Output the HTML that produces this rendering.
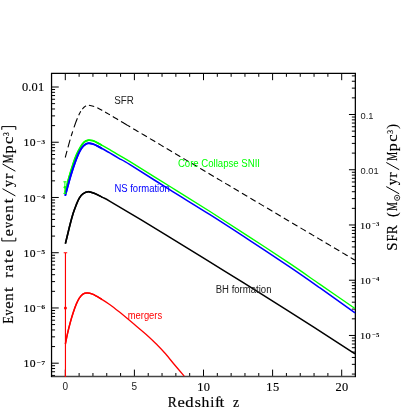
<!DOCTYPE html>
<html><head><meta charset="utf-8"><title>Event rate vs redshift</title>
<style>html,body{margin:0;padding:0;background:#fff;}svg{display:block;will-change:transform;}</style></head>
<body>
<svg width="415" height="415" viewBox="0 0 415 415">
<rect width="415" height="415" fill="#fff"/>
<path d="M65.30 376.50v-6.90M65.30 73.30v6.90M79.12 376.50v-3.50M79.12 73.30v3.50M92.94 376.50v-3.50M92.94 73.30v3.50M106.76 376.50v-3.50M106.76 73.30v3.50M120.58 376.50v-3.50M120.58 73.30v3.50M134.40 376.50v-6.90M134.40 73.30v6.90M148.22 376.50v-3.50M148.22 73.30v3.50M162.04 376.50v-3.50M162.04 73.30v3.50M175.86 376.50v-3.50M175.86 73.30v3.50M189.68 376.50v-3.50M189.68 73.30v3.50M203.50 376.50v-6.90M203.50 73.30v6.90M217.32 376.50v-3.50M217.32 73.30v3.50M231.14 376.50v-3.50M231.14 73.30v3.50M244.96 376.50v-3.50M244.96 73.30v3.50M258.78 376.50v-3.50M258.78 73.30v3.50M272.60 376.50v-6.90M272.60 73.30v6.90M286.42 376.50v-3.50M286.42 73.30v3.50M300.24 376.50v-3.50M300.24 73.30v3.50M314.06 376.50v-3.50M314.06 73.30v3.50M327.88 376.50v-3.50M327.88 73.30v3.50M341.70 376.50v-6.90M341.70 73.30v6.90M51.55 375.45h3.50M51.55 371.76h3.50M51.55 368.55h3.50M51.55 365.73h3.50M51.55 363.20h7.20M51.55 346.57h3.50M51.55 336.84h3.50M51.55 329.94h3.50M51.55 324.59h3.50M51.55 320.21h3.50M51.55 316.52h3.50M51.55 313.31h3.50M51.55 310.49h3.50M51.55 307.96h7.20M51.55 291.33h3.50M51.55 281.60h3.50M51.55 274.70h3.50M51.55 269.35h3.50M51.55 264.97h3.50M51.55 261.28h3.50M51.55 258.07h3.50M51.55 255.25h3.50M51.55 252.72h7.20M51.55 236.09h3.50M51.55 226.36h3.50M51.55 219.46h3.50M51.55 214.11h3.50M51.55 209.73h3.50M51.55 206.04h3.50M51.55 202.83h3.50M51.55 200.01h3.50M51.55 197.48h7.20M51.55 180.85h3.50M51.55 171.12h3.50M51.55 164.22h3.50M51.55 158.87h3.50M51.55 154.49h3.50M51.55 150.80h3.50M51.55 147.59h3.50M51.55 144.77h3.50M51.55 142.24h7.20M51.55 125.61h3.50M51.55 115.88h3.50M51.55 108.98h3.50M51.55 103.63h3.50M51.55 99.25h3.50M51.55 95.56h3.50M51.55 92.35h3.50M51.55 89.53h3.50M51.55 87.00h7.20M355.35 374.07h-3.50M355.35 364.34h-3.50M355.35 357.44h-3.50M355.35 352.09h-3.50M355.35 347.71h-3.50M355.35 344.02h-3.50M355.35 340.81h-3.50M355.35 337.99h-3.50M355.35 335.46h-6.40M355.35 318.83h-3.50M355.35 309.10h-3.50M355.35 302.20h-3.50M355.35 296.85h-3.50M355.35 292.47h-3.50M355.35 288.78h-3.50M355.35 285.57h-3.50M355.35 282.75h-3.50M355.35 280.22h-6.40M355.35 263.59h-3.50M355.35 253.86h-3.50M355.35 246.96h-3.50M355.35 241.61h-3.50M355.35 237.23h-3.50M355.35 233.54h-3.50M355.35 230.33h-3.50M355.35 227.51h-3.50M355.35 224.98h-6.40M355.35 208.35h-3.50M355.35 198.62h-3.50M355.35 191.72h-3.50M355.35 186.37h-3.50M355.35 181.99h-3.50M355.35 178.30h-3.50M355.35 175.09h-3.50M355.35 172.27h-3.50M355.35 169.74h-6.40M355.35 153.11h-3.50M355.35 143.38h-3.50M355.35 136.48h-3.50M355.35 131.13h-3.50M355.35 126.75h-3.50M355.35 123.06h-3.50M355.35 119.85h-3.50M355.35 117.03h-3.50M355.35 114.50h-6.40M355.35 97.87h-3.50M355.35 88.14h-3.50M355.35 81.24h-3.50M355.35 75.89h-3.50" stroke="#000" stroke-width="1" fill="none"/>
<path d="M50.95 376.50H355.95" stroke="#444" stroke-width="1.3" fill="none"/>
<path d="M51.55 377.10V73.30H355.35V377.10" stroke="#000" stroke-width="1.25" fill="none"/>
<g fill="none" stroke-linejoin="round">
<path d="M65.25 157.50L65.54 156.43L65.82 155.39L66.14 154.22L66.47 152.96L66.82 151.66L67.06 150.81M68.01 147.31L68.31 146.17L68.62 145.04L68.92 143.91L69.23 142.79L69.54 141.69L69.85 140.61L70.15 139.55M71.18 136.17L71.48 135.19L71.79 134.22L72.09 133.26L72.40 132.31L72.70 131.37M74.00 127.40L74.40 126.23L74.80 125.08L75.20 123.96L75.60 122.87L76.00 121.80L76.40 120.75L76.80 119.73L77.20 118.74L77.40 118.26M78.70 115.25L79.10 114.40L79.50 113.59L80.00 112.65L80.48 111.79L80.77 111.31M82.40 109.03L83.01 108.31L83.61 107.67L84.35 106.98L85.13 106.41L85.88 105.92L86.00 105.85M88.90 105.23L90.16 105.42L91.15 105.66L92.18 105.94L93.21 106.27L94.20 106.60L94.20 106.60M97.30 107.84L98.25 108.30L99.07 108.72L100.00 109.20L100.98 109.72L101.97 110.27L102.20 110.40M105.10 112.05L106.23 112.71L107.19 113.28L108.24 113.89L109.39 114.56L109.90 114.86M112.80 116.57L113.83 117.18L115.19 117.98L116.61 118.83L118.10 119.71M121.00 121.44L122.40 122.27L123.36 122.84L124.36 123.43L125.39 124.05L126.47 124.69L127.60 125.36L128.78 126.06L130.00 126.78L130.20 126.90M133.20 128.68L134.04 129.18L135.51 130.05L137.03 130.95L138.55 131.85M141.56 133.64L143.54 134.81L145.25 135.82L146.91 136.81M149.93 138.60L152.32 140.02L154.12 141.09L155.28 141.77M158.29 143.56L159.53 144.29L161.32 145.36L163.10 146.41L163.64 146.73M166.66 148.52L168.32 149.50L170.00 150.50L171.67 151.49L172.01 151.69M175.02 153.48L176.67 154.46L178.33 155.44L180.00 156.43L180.37 156.65M183.39 158.44L185.00 159.40L186.67 160.39L188.33 161.37L188.74 161.61M191.75 163.40L193.33 164.34L195.00 165.33L196.67 166.32L197.10 166.58M200.12 168.36L201.67 169.28L203.33 170.27L205.00 171.26L205.47 171.54M208.48 173.32L210.00 174.22L211.67 175.21L213.33 176.20L213.83 176.50M216.85 178.28L218.33 179.16L220.00 180.15L221.67 181.14L222.20 181.46M225.21 183.24L226.67 184.11L228.33 185.09L230.00 186.08L230.56 186.42M233.58 188.20L235.00 189.05L236.67 190.04L238.33 191.02L238.93 191.38M241.94 193.17L243.33 193.99L245.00 194.98L246.67 195.97L247.29 196.34M250.31 198.13L251.67 198.93L253.33 199.92L255.00 200.91L255.66 201.30M258.68 203.09L260.00 203.87L261.67 204.86L263.33 205.85L264.03 206.26M267.04 208.05L268.33 208.81L270.00 209.80L271.67 210.79L272.39 211.22M275.40 213.01L276.67 213.76L278.33 214.74L280.00 215.73L280.75 216.18M283.77 217.97L285.00 218.70L286.67 219.69L288.33 220.67L289.12 221.14M292.13 222.93L293.38 223.67L295.10 224.69L296.84 225.72L297.49 226.10M300.50 227.89L302.12 228.85L303.89 229.90L305.66 230.95L305.85 231.06M308.87 232.85L310.94 234.08L312.68 235.11L314.22 236.02M317.23 237.81L319.43 239.11L321.05 240.08L322.58 240.98M325.60 242.77L327.19 243.72L328.62 244.56L330.00 245.38L330.95 245.94M333.96 247.73L335.32 248.54L336.62 249.31L337.89 250.06L339.14 250.80L339.31 250.90M342.32 252.69L343.89 253.62L345.00 254.28L346.08 254.91L347.12 255.53L347.68 255.86M350.69 257.65L351.68 258.24L352.45 258.70L353.84 259.52L355.00 260.21L355.00 260.21" stroke="#000" stroke-width="1.1" stroke-linecap="butt"/>
<defs><clipPath id="pk"><rect x="50" y="70" width="52" height="310"/></clipPath></defs>
<path d="M65.20 192.60C65.80 190.17 67.43 182.95 68.80 178.00C70.17 173.05 72.15 166.70 73.40 162.90C74.65 159.10 75.17 157.77 76.30 155.20C77.43 152.63 78.92 149.67 80.20 147.50C81.48 145.33 82.63 143.42 84.00 142.20C85.37 140.98 86.95 140.45 88.40 140.20C89.85 139.95 91.10 140.22 92.70 140.70C94.30 141.18 95.23 141.65 98.00 143.10C100.77 144.55 105.82 147.38 109.30 149.40C112.78 151.42 115.45 153.15 118.90 155.20C122.35 157.25 121.48 156.48 130.00 161.70C138.52 166.92 156.67 178.20 170.00 186.50C183.33 194.80 196.67 203.03 210.00 211.50C223.33 219.97 236.67 228.60 250.00 237.30C263.33 246.00 278.33 255.85 290.00 263.70C301.67 271.55 309.17 276.93 320.00 284.40C330.83 291.87 349.17 304.48 355.00 308.50" stroke="#00ff00" stroke-width="1.40"/>
<path d="M65.20 192.60C65.80 190.17 67.43 182.95 68.80 178.00C70.17 173.05 72.15 166.70 73.40 162.90C74.65 159.10 75.17 157.77 76.30 155.20C77.43 152.63 78.92 149.67 80.20 147.50C81.48 145.33 82.63 143.42 84.00 142.20C85.37 140.98 86.95 140.45 88.40 140.20C89.85 139.95 91.10 140.22 92.70 140.70C94.30 141.18 95.23 141.65 98.00 143.10C100.77 144.55 105.82 147.38 109.30 149.40C112.78 151.42 115.45 153.15 118.90 155.20C122.35 157.25 121.48 156.48 130.00 161.70C138.52 166.92 156.67 178.20 170.00 186.50C183.33 194.80 196.67 203.03 210.00 211.50C223.33 219.97 236.67 228.60 250.00 237.30C263.33 246.00 278.33 255.85 290.00 263.70C301.67 271.55 309.17 276.93 320.00 284.40C330.83 291.87 349.17 304.48 355.00 308.50" stroke="#00ff00" stroke-width="1.75" clip-path="url(#pk)"/>
<path d="M65.20 195.80C65.60 194.32 66.79 189.87 67.60 186.90C68.41 183.93 69.23 180.80 70.05 178.00C70.87 175.20 71.69 172.62 72.50 170.10C73.31 167.58 74.10 165.15 74.90 162.90C75.70 160.65 76.50 158.53 77.30 156.60C78.10 154.67 78.90 152.82 79.70 151.30C80.50 149.78 81.22 148.62 82.10 147.50C82.98 146.38 83.95 145.30 85.00 144.60C86.05 143.90 87.12 143.42 88.40 143.30C89.68 143.18 91.10 143.40 92.70 143.90C94.30 144.40 95.23 144.83 98.00 146.30C100.77 147.77 105.82 150.70 109.30 152.70C112.78 154.70 115.45 156.30 118.90 158.30C122.35 160.30 121.48 159.43 130.00 164.70C138.52 169.97 156.67 181.57 170.00 189.90C183.33 198.23 196.67 206.25 210.00 214.70C223.33 223.15 236.67 231.87 250.00 240.60C263.33 249.33 278.33 259.22 290.00 267.10C301.67 274.98 309.17 280.28 320.00 287.90C330.83 295.52 349.17 308.65 355.00 312.80" stroke="#0000ff" stroke-width="1.55"/>
<path d="M65.20 195.80C65.60 194.32 66.79 189.87 67.60 186.90C68.41 183.93 69.23 180.80 70.05 178.00C70.87 175.20 71.69 172.62 72.50 170.10C73.31 167.58 74.10 165.15 74.90 162.90C75.70 160.65 76.50 158.53 77.30 156.60C78.10 154.67 78.90 152.82 79.70 151.30C80.50 149.78 81.22 148.62 82.10 147.50C82.98 146.38 83.95 145.30 85.00 144.60C86.05 143.90 87.12 143.42 88.40 143.30C89.68 143.18 91.10 143.40 92.70 143.90C94.30 144.40 95.23 144.83 98.00 146.30C100.77 147.77 105.82 150.70 109.30 152.70C112.78 154.70 115.45 156.30 118.90 158.30C122.35 160.30 121.48 159.43 130.00 164.70C138.52 169.97 156.67 181.57 170.00 189.90C183.33 198.23 196.67 206.25 210.00 214.70C223.33 223.15 236.67 231.87 250.00 240.60C263.33 249.33 278.33 259.22 290.00 267.10C301.67 274.98 309.17 280.28 320.00 287.90C330.83 295.52 349.17 308.65 355.00 312.80" stroke="#0000ff" stroke-width="1.90" clip-path="url(#pk)"/>
<path d="M65.40 243.60C65.75 242.17 66.70 238.27 67.50 235.00C68.30 231.73 69.24 227.65 70.20 224.00C71.16 220.35 72.23 216.32 73.25 213.10C74.27 209.88 75.29 207.20 76.30 204.70C77.31 202.20 78.20 199.92 79.30 198.10C80.40 196.28 81.40 194.87 82.90 193.80C84.40 192.73 86.30 191.73 88.30 191.70C90.30 191.67 92.58 192.68 94.90 193.60C97.22 194.52 99.68 195.92 102.20 197.20C104.72 198.48 104.55 198.15 110.00 201.30C115.45 204.45 125.73 210.58 134.90 216.10C144.07 221.62 149.98 225.20 165.00 234.40C180.02 243.60 205.00 258.90 225.00 271.30C245.00 283.70 263.33 295.05 285.00 308.80C306.67 322.55 343.33 346.30 355.00 353.80" stroke="#000" stroke-width="1.50"/>
<path d="M65.40 243.60C65.75 242.17 66.70 238.27 67.50 235.00C68.30 231.73 69.24 227.65 70.20 224.00C71.16 220.35 72.23 216.32 73.25 213.10C74.27 209.88 75.29 207.20 76.30 204.70C77.31 202.20 78.20 199.92 79.30 198.10C80.40 196.28 81.40 194.87 82.90 193.80C84.40 192.73 86.30 191.73 88.30 191.70C90.30 191.67 92.58 192.68 94.90 193.60C97.22 194.52 99.68 195.92 102.20 197.20C104.72 198.48 104.55 198.15 110.00 201.30C115.45 204.45 125.73 210.58 134.90 216.10C144.07 221.62 149.98 225.20 165.00 234.40C180.02 243.60 205.00 258.90 225.00 271.30C245.00 283.70 263.33 295.05 285.00 308.80C306.67 322.55 343.33 346.30 355.00 353.80" stroke="#000" stroke-width="1.65" clip-path="url(#pk)"/>
<path d="M65.40 344.00C65.75 342.27 66.70 337.15 67.50 333.60C68.30 330.05 69.24 326.22 70.20 322.70C71.16 319.18 72.23 315.60 73.25 312.50C74.27 309.40 75.29 306.50 76.30 304.10C77.31 301.70 78.20 299.77 79.30 298.10C80.40 296.43 81.60 294.97 82.90 294.10C84.20 293.23 85.50 292.90 87.10 292.90C88.70 292.90 90.38 293.23 92.50 294.10C94.62 294.97 96.88 296.33 99.80 298.10C102.72 299.87 106.72 302.37 110.00 304.70C113.28 307.03 115.52 308.87 119.50 312.10C123.48 315.33 129.08 320.05 133.90 324.10C138.72 328.15 144.54 332.95 148.40 336.40C152.26 339.85 154.20 341.90 157.05 344.80C159.90 347.70 162.69 350.60 165.50 353.80C168.31 357.00 170.78 360.28 173.90 364.00C177.02 367.72 182.48 374.08 184.20 376.10" stroke="#ff0000" stroke-width="1.30"/>
<path d="M65.40 344.00C65.75 342.27 66.70 337.15 67.50 333.60C68.30 330.05 69.24 326.22 70.20 322.70C71.16 319.18 72.23 315.60 73.25 312.50C74.27 309.40 75.29 306.50 76.30 304.10C77.31 301.70 78.20 299.77 79.30 298.10C80.40 296.43 81.60 294.97 82.90 294.10C84.20 293.23 85.50 292.90 87.10 292.90C88.70 292.90 90.38 293.23 92.50 294.10C94.62 294.97 96.88 296.33 99.80 298.10C102.72 299.87 106.72 302.37 110.00 304.70C113.28 307.03 115.52 308.87 119.50 312.10C123.48 315.33 129.08 320.05 133.90 324.10C138.72 328.15 144.54 332.95 148.40 336.40C152.26 339.85 154.20 341.90 157.05 344.80C159.90 347.70 162.69 350.60 165.50 353.80C168.31 357.00 170.78 360.28 173.90 364.00C177.02 367.72 182.48 374.08 184.20 376.10" stroke="#ff0000" stroke-width="1.50" clip-path="url(#pk)"/>
</g>
<path d="M65.45 252.7V377M63.7 252.7H67.2" stroke="#ff0000" stroke-width="1.15" fill="none"/>
<circle cx="65.45" cy="307.9" r="1.5" fill="#ff0000"/>
<path d="M64.9 181.8V193.4M63.4 181.8H66.6M63.4 193.4H66.6" stroke="#00ff00" stroke-width="1" fill="none"/>
<circle cx="64.9" cy="187.3" r="1.3" fill="#00ff00"/>
<g fill="#000">
<text x="44.4" y="90.6" font-family="Liberation Serif, serif" font-size="12.4" text-anchor="end" letter-spacing="0.2" stroke="#000" stroke-width="0.15">0.01</text>
<text transform="translate(35.94 146.44) scale(1.100 1)" font-family="Liberation Serif, serif" font-size="10.60" text-anchor="end" letter-spacing="0.40" stroke="#000" stroke-width="0.15">10</text><text transform="translate(36.80 143.64) scale(1.120 1)" font-family="Liberation Serif, serif" font-size="7.00" font-weight="bold">−3</text>
<text transform="translate(35.94 201.68) scale(1.100 1)" font-family="Liberation Serif, serif" font-size="10.60" text-anchor="end" letter-spacing="0.40" stroke="#000" stroke-width="0.15">10</text><text transform="translate(36.80 198.88) scale(1.120 1)" font-family="Liberation Serif, serif" font-size="7.00" font-weight="bold">−4</text>
<text transform="translate(35.94 256.92) scale(1.100 1)" font-family="Liberation Serif, serif" font-size="10.60" text-anchor="end" letter-spacing="0.40" stroke="#000" stroke-width="0.15">10</text><text transform="translate(36.80 254.12) scale(1.120 1)" font-family="Liberation Serif, serif" font-size="7.00" font-weight="bold">−5</text>
<text transform="translate(35.94 312.16) scale(1.100 1)" font-family="Liberation Serif, serif" font-size="10.60" text-anchor="end" letter-spacing="0.40" stroke="#000" stroke-width="0.15">10</text><text transform="translate(36.80 309.36) scale(1.120 1)" font-family="Liberation Serif, serif" font-size="7.00" font-weight="bold">−6</text>
<text transform="translate(35.94 367.40) scale(1.100 1)" font-family="Liberation Serif, serif" font-size="10.60" text-anchor="end" letter-spacing="0.40" stroke="#000" stroke-width="0.15">10</text><text transform="translate(36.80 364.60) scale(1.120 1)" font-family="Liberation Serif, serif" font-size="7.00" font-weight="bold">−7</text>
<text x="360.5" y="119.20" font-family="Liberation Sans, sans-serif" font-size="9.3" fill="#222">0.1</text>
<text x="360.5" y="174.44" font-family="Liberation Sans, sans-serif" font-size="9.3" fill="#222">0.01</text>
<text transform="translate(371.14 228.58) scale(1.140 1)" font-family="Liberation Serif, serif" font-size="9.10" text-anchor="end" letter-spacing="0.30" stroke="#000" stroke-width="0.15">10</text><text transform="translate(372.20 226.18) scale(1.050 1)" font-family="Liberation Serif, serif" font-size="6.40" font-weight="bold">−3</text>
<text transform="translate(371.14 283.82) scale(1.140 1)" font-family="Liberation Serif, serif" font-size="9.10" text-anchor="end" letter-spacing="0.30" stroke="#000" stroke-width="0.15">10</text><text transform="translate(372.20 281.42) scale(1.050 1)" font-family="Liberation Serif, serif" font-size="6.40" font-weight="bold">−4</text>
<text transform="translate(371.14 339.06) scale(1.140 1)" font-family="Liberation Serif, serif" font-size="9.10" text-anchor="end" letter-spacing="0.30" stroke="#000" stroke-width="0.15">10</text><text transform="translate(372.20 336.66) scale(1.050 1)" font-family="Liberation Serif, serif" font-size="6.40" font-weight="bold">−5</text>
<text x="65.30" y="390.4" font-family="Liberation Sans, sans-serif" font-size="10" text-anchor="middle" fill="#222">0</text>
<text x="134.40" y="390.4" font-family="Liberation Sans, sans-serif" font-size="10" text-anchor="middle" fill="#222">5</text>
<text x="203.85" y="390.5" font-family="Liberation Serif, serif" font-size="12.4" text-anchor="middle" letter-spacing="0.4" stroke="#000" stroke-width="0.15">10</text>
<text x="272.95" y="390.5" font-family="Liberation Serif, serif" font-size="12.4" text-anchor="middle" letter-spacing="0.4" stroke="#000" stroke-width="0.15">15</text>
<text x="342.05" y="390.5" font-family="Liberation Serif, serif" font-size="12.4" text-anchor="middle" letter-spacing="0.4" stroke="#000" stroke-width="0.15">20</text>
<g transform="translate(0 406.5)" font-family="Liberation Serif, serif" stroke="#000" stroke-width="0.18"><text transform="translate(172.40 0.00) scale(0.920 1)" x="-5.14" y="0" font-size="14.80">R</text><text transform="translate(181.10 0.00) scale(1.120 1)" x="-3.32" y="0" font-size="14.80">e</text><text transform="translate(189.60 0.00) scale(1.120 1)" x="-3.88" y="0" font-size="14.80">d</text><text transform="translate(197.80 0.00) scale(1.070 1)" x="-2.92" y="0" font-size="14.80">s</text><text transform="translate(205.30 0.00) scale(1.060 1)" x="-3.67" y="0" font-size="14.80">h</text><text transform="translate(212.30 0.00) scale(1.000 1)" x="-2.07" y="0" font-size="14.80">i</text><text transform="translate(217.80 0.00) scale(1.080 1)" x="-2.69" y="0" font-size="14.80">f</text><text transform="translate(222.00 0.00) scale(1.150 1)" x="-2.08" y="0" font-size="14.80">t</text><text transform="translate(235.90 0.00) scale(0.920 1)" x="-3.28" y="0" font-size="14.80">z</text></g>
<g transform="translate(13.1 0) rotate(-90)" font-family="Liberation Serif, serif" stroke="#000" stroke-width="0.18"><text transform="translate(-320.00 0.00) scale(0.820 1)" x="-4.36" y="0" font-size="14.80">E</text><text transform="translate(-312.50 0.00) scale(0.800 1)" x="-3.70" y="0" font-size="14.80">v</text><text transform="translate(-305.00 0.00) scale(1.120 1)" x="-3.32" y="0" font-size="14.80">e</text><text transform="translate(-297.00 0.00) scale(1.000 1)" x="-3.76" y="0" font-size="14.80">n</text><text transform="translate(-289.60 0.00) scale(1.150 1)" x="-2.08" y="0" font-size="14.80">t</text><text transform="translate(-274.90 0.00) scale(1.080 1)" x="-2.55" y="0" font-size="14.80">r</text><text transform="translate(-267.70 0.00) scale(1.000 1)" x="-3.44" y="0" font-size="14.80">a</text><text transform="translate(-260.70 0.00) scale(1.150 1)" x="-2.08" y="0" font-size="14.80">t</text><text transform="translate(-253.40 0.00) scale(1.120 1)" x="-3.32" y="0" font-size="14.80">e</text><path d="M-237.70 2.70h-3.2v-14h3.2" stroke="#000" stroke-width="1" fill="none"/><text transform="translate(-232.80 0.00) scale(1.120 1)" x="-3.32" y="0" font-size="14.80">e</text><text transform="translate(-225.10 0.00) scale(0.800 1)" x="-3.70" y="0" font-size="14.80">v</text><text transform="translate(-217.50 0.00) scale(1.120 1)" x="-3.32" y="0" font-size="14.80">e</text><text transform="translate(-208.90 0.00) scale(1.000 1)" x="-3.76" y="0" font-size="14.80">n</text><text transform="translate(-200.90 0.00) scale(1.150 1)" x="-2.08" y="0" font-size="14.80">t</text><path d="M-195.90 2.30L-188.70 -10.60" stroke="#000" stroke-width="1" fill="none"/><text transform="translate(-183.40 0.00) scale(0.940 1)" x="-3.76" y="0" font-size="14.80">y</text><text transform="translate(-176.20 0.00) scale(1.080 1)" x="-2.55" y="0" font-size="14.80">r</text><path d="M-171.20 2.30L-164.00 -10.60" stroke="#000" stroke-width="1" fill="none"/><text transform="translate(-158.80 0.00) scale(0.680 1)" x="-6.58" y="0" font-size="14.80">M</text><text transform="translate(-149.60 0.00) scale(1.100 1)" x="-3.53" y="0" font-size="14.80">p</text><text transform="translate(-140.20 0.00) scale(1.120 1)" x="-3.34" y="0" font-size="14.80">c</text><text transform="translate(-134.00 -3.70) scale(1.000 1)" x="-1.88" y="0" font-size="7.40">3</text><path d="M-129.80 2.70h3.2v-14h-3.2" stroke="#000" stroke-width="1" fill="none"/></g>
<g transform="translate(396.9 0) rotate(-90)" font-family="Liberation Serif, serif" stroke="#000" stroke-width="0.18"><text transform="translate(-246.50 0.00) scale(1.000 1)" x="-4.15" y="0" font-size="14.80">S</text><text transform="translate(-238.00 0.00) scale(0.820 1)" x="-4.06" y="0" font-size="14.80">F</text><text transform="translate(-229.40 0.00) scale(0.920 1)" x="-5.14" y="0" font-size="14.80">R</text><text transform="translate(-214.60 0.00) scale(0.950 1)" x="-2.55" y="0" font-size="14.80">(</text><text transform="translate(-206.50 0.00) scale(0.680 1)" x="-6.58" y="0" font-size="14.80">M</text><circle cx="-197.80" cy="0.20" r="2.6" fill="none" stroke="#000" stroke-width="0.8"/><circle cx="-197.80" cy="0.20" r="0.7"/><path d="M-193.80 2.30L-186.60 -10.60" stroke="#000" stroke-width="1" fill="none"/><text transform="translate(-181.60 0.00) scale(0.940 1)" x="-3.76" y="0" font-size="14.80">y</text><text transform="translate(-175.10 0.00) scale(1.080 1)" x="-2.55" y="0" font-size="14.80">r</text><path d="M-169.70 2.30L-162.50 -10.60" stroke="#000" stroke-width="1" fill="none"/><text transform="translate(-156.30 0.00) scale(0.680 1)" x="-6.58" y="0" font-size="14.80">M</text><text transform="translate(-147.30 0.00) scale(1.100 1)" x="-3.53" y="0" font-size="14.80">p</text><text transform="translate(-137.90 0.00) scale(1.120 1)" x="-3.34" y="0" font-size="14.80">c</text><text transform="translate(-131.90 -4.00) scale(1.000 1)" x="-1.88" y="0" font-size="7.40">3</text><text transform="translate(-126.60 0.00) scale(0.950 1)" x="-2.38" y="0" font-size="14.80">)</text></g>
<text x="114.30" y="103.60" font-family="Liberation Sans, sans-serif" font-size="10" fill="#222" textLength="19.60" lengthAdjust="spacingAndGlyphs">SFR</text>
<text x="177.90" y="166.70" font-family="Liberation Sans, sans-serif" font-size="10" fill="#00ff00" textLength="82.10" lengthAdjust="spacingAndGlyphs">Core Collapse SNII</text>
<text x="114.40" y="192.20" font-family="Liberation Sans, sans-serif" font-size="10" fill="#0000ff" textLength="55.40" lengthAdjust="spacingAndGlyphs">NS formation</text>
<text x="215.70" y="293.00" font-family="Liberation Sans, sans-serif" font-size="10" fill="#222" textLength="55.80" lengthAdjust="spacingAndGlyphs">BH formation</text>
<text x="127.70" y="318.50" font-family="Liberation Sans, sans-serif" font-size="10" fill="#ff0000" textLength="34.50" lengthAdjust="spacingAndGlyphs">mergers</text>
</g>
</svg>
</body></html>
